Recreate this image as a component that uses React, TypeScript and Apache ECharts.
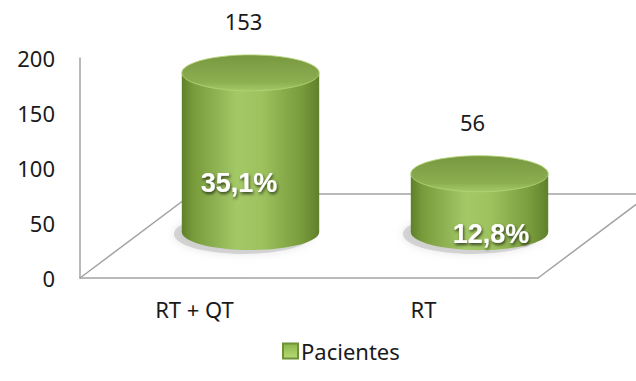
import React, { useEffect, useRef } from "react";
import * as echarts from "echarts";

// Chart data
const categories = ["RT + QT", "RT"];
const pacientes = [153, 56];
const porcentajes = ["35,1%", "12,8%"];
const yMin = 0;
const yMax = 200;
const yInterval = 50;

const FONT = "'Noto Sans', 'Open Sans', sans-serif";
const LINE = "#a3a3a3";

export default function App() {
  const ref = useRef<HTMLDivElement>(null);

  useEffect(() => {
    document.body.style.margin = "0";
    if (!ref.current) return;
    const chart = echarts.init(ref.current, null, { renderer: "svg" });

    const renderCylinder = (params: any, api: any) => {
      const idx = api.value(0);
      const v = api.value(1);
      const top = api.coord([idx, v]);
      const base = api.coord([idx, 0]);
      const half = api.coord([idx, v / 2]);
      const w = api.size([1, 0])[0] * 0.6;
      const rx = w / 2;
      const ry = 18;
      const cx = top[0];
      const cs = params.coordSys;
      const mid = cs.x + cs.width / 2;

      const bodyGrad = new echarts.graphic.LinearGradient(0, 0, 1, 0, [
        { offset: 0, color: "#5f7f2a" },
        { offset: 0.08, color: "#779a3b" },
        { offset: 0.4, color: "#a3c866" },
        { offset: 0.58, color: "#9dc25e" },
        { offset: 0.88, color: "#779a3b" },
        { offset: 1, color: "#617f2c" },
      ]);
      const topGrad = new echarts.graphic.LinearGradient(0, 0, 0, 1, [
        { offset: 0, color: "#789840" },
        { offset: 0.75, color: "#8cae50" },
        { offset: 1, color: "#a4c866" },
      ]);

      return {
        type: "group",
        children: [
          {
            type: "ellipse",
            shape: { cx: cx - 7, cy: base[1] + 2, rx: rx + 1, ry: ry + 2 },
            style: {
              fill: "rgba(160,160,160,0.4)",
              shadowBlur: 8,
              shadowColor: "rgba(0,0,0,0.25)",
            },
          },
          {
            type: "ellipse",
            shape: { cx, cy: base[1], rx, ry },
            style: { fill: bodyGrad },
          },
          {
            type: "rect",
            shape: { x: cx - rx, y: top[1], width: w, height: base[1] - top[1] },
            style: { fill: bodyGrad },
          },
          {
            type: "ellipse",
            shape: { cx, cy: top[1], rx, ry },
            style: { fill: topGrad, stroke: "rgba(178,210,116,0.85)", lineWidth: 1 },
          },
          {
            type: "text",
            x: cx - 7,
            y: top[1] - 52,
            style: {
              text: String(v),
              fill: "#1a1a1a",
              font: `22px ${FONT}`,
              align: "center",
              verticalAlign: "middle",
            },
          },
          {
            type: "text",
            x: cx + (cx - mid) * 0.1,
            y: half[1] + 31,
            style: {
              text: porcentajes[idx],
              fill: "#ffffff",
              font: `bold 27px 'Liberation Sans', Arial, sans-serif`,
              align: "center",
              verticalAlign: "middle",
              textShadowColor: "rgba(0,0,0,0.65)",
              textShadowBlur: 3,
              textShadowOffsetX: 1,
              textShadowOffsetY: 2,
            },
          },
        ],
      };
    };

    chart.setOption({
      animation: false,
      grid: [
        { left: 80, right: 98, top: 58, bottom: 103 },
        { left: 136, right: 42, top: 24, bottom: 149 },
      ],
      xAxis: [
        {
          gridIndex: 0,
          type: "category",
          data: categories,
          axisLine: { show: true, lineStyle: { color: LINE, width: 1.5 } },
          axisTick: { show: false },
          axisLabel: { fontSize: 22, color: "#1a1a1a", fontFamily: FONT, margin: 20 },
        },
        { gridIndex: 1, type: "category", data: categories, show: false },
      ],
      yAxis: [
        {
          gridIndex: 0,
          type: "value",
          min: yMin,
          max: yMax,
          interval: yInterval,
          axisLine: { show: true, lineStyle: { color: LINE, width: 1.5 } },
          axisTick: { show: false },
          splitLine: { show: false },
          axisLabel: { fontSize: 22, color: "#1a1a1a", fontFamily: FONT, margin: 25 },
        },
        { gridIndex: 1, type: "value", min: yMin, max: yMax, show: false },
      ],
      legend: {
        data: [{ name: "Pacientes", icon: "rect" }],
        left: 282,
        top: 340,
        padding: 0,
        itemWidth: 15,
        itemHeight: 15,
        itemGap: 6,
        textStyle: { fontSize: 22, color: "#1a1a1a", fontFamily: FONT, padding: [0, 0, 0, -2] },
      },
      graphic: [
        {
          type: "polyline",
          z: 1,
          shape: {
            points: [
              [80, 278],
              [192, 194],
              [650, 194],
              [538, 278],
            ],
          },
          style: { stroke: LINE, lineWidth: 1.5, fill: null },
        },
      ],
      series: [
        {
          type: "custom",
          name: "Pacientes",
          xAxisIndex: 1,
          yAxisIndex: 1,
          z: 5,
          encode: { x: 0, y: 1 },
          itemStyle: {
            color: new echarts.graphic.LinearGradient(0, 0, 0, 1, [
              { offset: 0, color: "#8cb44c" },
              { offset: 1, color: "#b6dc76" },
            ]),
            borderColor: "#6f9236",
            borderWidth: 1,
          },
          data: pacientes.map((v, i) => [i, v]),
          renderItem: renderCylinder,
        },
      ],
    });

    return () => chart.dispose();
  }, []);

  return <div ref={ref} style={{ width: 636, height: 381, background: "#fff" }} />;
}
